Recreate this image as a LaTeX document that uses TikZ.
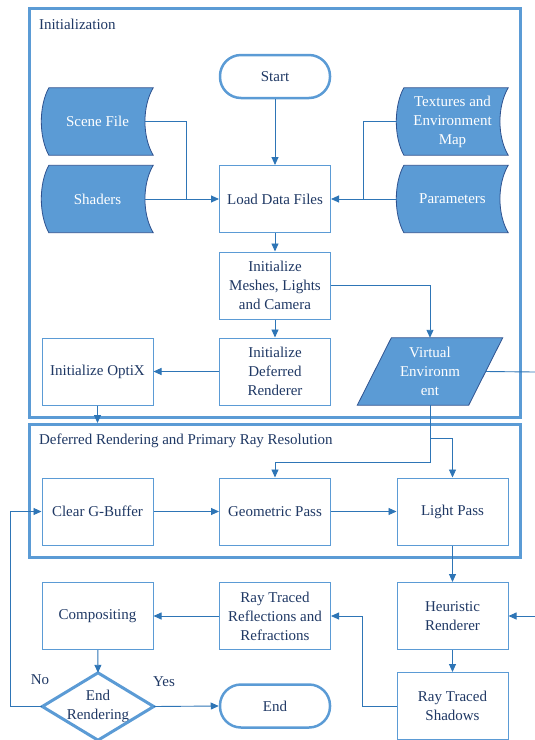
\documentclass[tikz,border=0pt]{standalone}
\usepackage{fontspec}
\setmainfont{Liberation Serif}
\usetikzlibrary{arrows.meta,backgrounds}
\definecolor{boxblue}{HTML}{5B9BD5}
\definecolor{linkblue}{HTML}{2E75B6}
\definecolor{edgeblue}{HTML}{2F528F}
\definecolor{inkblue}{HTML}{1F3864}
\begin{document}
\begin{tikzpicture}[x=1pt,y=-1pt,
		every node/.style={font=\fontsize{15}{19}\selectfont,text=inkblue,align=center},
		proc/.style={draw=boxblue,line width=1pt,minimum width=111pt,minimum height=67pt,inner sep=2pt},
		term/.style={draw=boxblue,line width=2.5pt,rounded corners=21pt,minimum width=110pt,minimum height=43pt},
		ghost/.style={minimum width=111pt,minimum height=67pt,inner sep=0pt},
		datashape/.style={fill=boxblue,draw=edgeblue,line width=0.8pt},
		link/.style={draw=linkblue,line width=0.9pt,-{Triangle[length=8pt,width=7pt]}},
		wire/.style={draw=linkblue,line width=0.9pt},
		frame/.style={draw=boxblue,line width=3pt}]
	\useasboundingbox (0,0) rectangle (535,740);
	\draw[frame] (29.5,8.5) rectangle (520.5,417) (29.5,424.5) rectangle (520.5,557.5);
	\node[anchor=west] (initlbl) at (35.5,24) {Initialization};
	\node[anchor=west] (deflbl) at (35.5,441) {Deferred Rendering and Primary Ray Resolution};
	% flow nodes
	\node[term] (start) at (275,76.5) {Start};
	\node[ghost,text=white] (scene) at (97.5,121.5) {Scene File};
	\node[ghost,text=white] (shaders) at (97.5,199) {Shaders};
	\node[ghost,text=white] (tex) at (452.5,121.5) {Textures and\\Environment\\Map};
	\node[ghost,text=white] (param) at (452.5,199) {Parameters};
	\node[proc] (load) at (275,199) {Load Data Files};
	\node[proc] (mesh) at (275,285.5) {Initialize\\Meshes, Lights\\and Camera};
	\node[proc] (defr) at (275,371.5) {Initialize\\Deferred\\Renderer};
	\node[proc] (optix) at (97.5,371.5) {Initialize OptiX};
	\node[ghost,text=white] (venv) at (430,371.5) {Virtual\\Environm\\ent};
	\node[proc] (clear) at (97.5,511.5) {Clear G-Buffer};
	\node[proc] (geom) at (275,511.5) {Geometric Pass};
	\node[proc] (light) at (452.5,511.5) {Light Pass};
	\node[proc] (heur) at (452.5,616) {Heuristic\\Renderer};
	\node[proc] (shadow) at (452.5,706) {Ray Traced\\Shadows};
	\node[proc] (refl) at (275,616) {Ray Traced\\Reflections and\\Refractions};
	\node[proc] (comp) at (97.5,616) {Compositing};
	\node[ghost] (endr) at (98,706.5) {End\\Rendering};
	\node[term] (end) at (275,706) {End};
	\node (yes) at (164,682) {Yes};
	\node (no) at (40,680) {No};
	\coordinate (jl) at (186,199); \coordinate (jr) at (363,199);
	\coordinate (defin) at (97.5,423); \coordinate (venvout) at (535,372);
	\coordinate (vsplit) at (430,438); \coordinate (heurin) at (535,616);
	% shapes behind the texts
	\begin{scope}[on background layer]
		\foreach\n in {scene,shaders,tex,param}
		\draw[datashape] ([xshift=7pt]\n.north west) -- (\n.north east)
			.. controls ([xshift=-11pt,yshift=-18.5pt]\n.north east) and ([xshift=-11pt,yshift=18.5pt]\n.south east) .. (\n.south east)
			-- ([xshift=7pt]\n.south west)
			.. controls ([xshift=-3pt,yshift=18.5pt]\n.south west) and ([xshift=-3pt,yshift=-18.5pt]\n.north west) .. cycle;
		\draw[datashape] ([xshift=17pt]venv.north west) -- ([xshift=17pt]venv.north east)
			-- ([xshift=-17pt]venv.south east) -- ([xshift=-17pt]venv.south west) -- cycle;
	\end{scope}
	\draw[frame] (endr.west) -- (endr.north) -- (endr.east) -- (endr.south) -- cycle;
	% connectors
	\draw[link] (start) -- (load);
	\draw[wire] ([xshift=-8pt]scene.east) -| (jl);
	\draw[link] ([xshift=-8pt]shaders.east) -- (load.west);
	\draw[wire] (tex.west) -| (jr);
	\draw[link] (param.west) -- (load.east);
	\draw[link] (load) -- (mesh);
	\draw[link] (mesh) -- (defr);
	\draw[link] (mesh.east) -| (venv.north);
	\draw[link] (defr) -- (optix);
	\draw[link] (optix) -- (defin);
	\draw[wire] (venv.east) -- (venvout);
	\draw[link] (venv.south) |- ([yshift=15pt]geom.north) -- (geom.north);
	\draw[link] (vsplit) -| (light.north);
	\draw[link] (clear) -- (geom);
	\draw[link] (geom) -- (light);
	\draw[link] (light) -- (heur);
	\draw[link] (heurin) -- (heur.east);
	\draw[link] (heur) -- (shadow);
	\draw[link] (shadow.west) -- ++(-34,0) |- (refl.east);
	\draw[link] (refl) -- (comp);
	\draw[link] (comp) -- (endr.north);
	\draw[link] (endr.east) -- (end.west);
	\draw[link] (endr.west) -- ++(-32,0) |- (clear.west);
\end{tikzpicture}
\end{document}
